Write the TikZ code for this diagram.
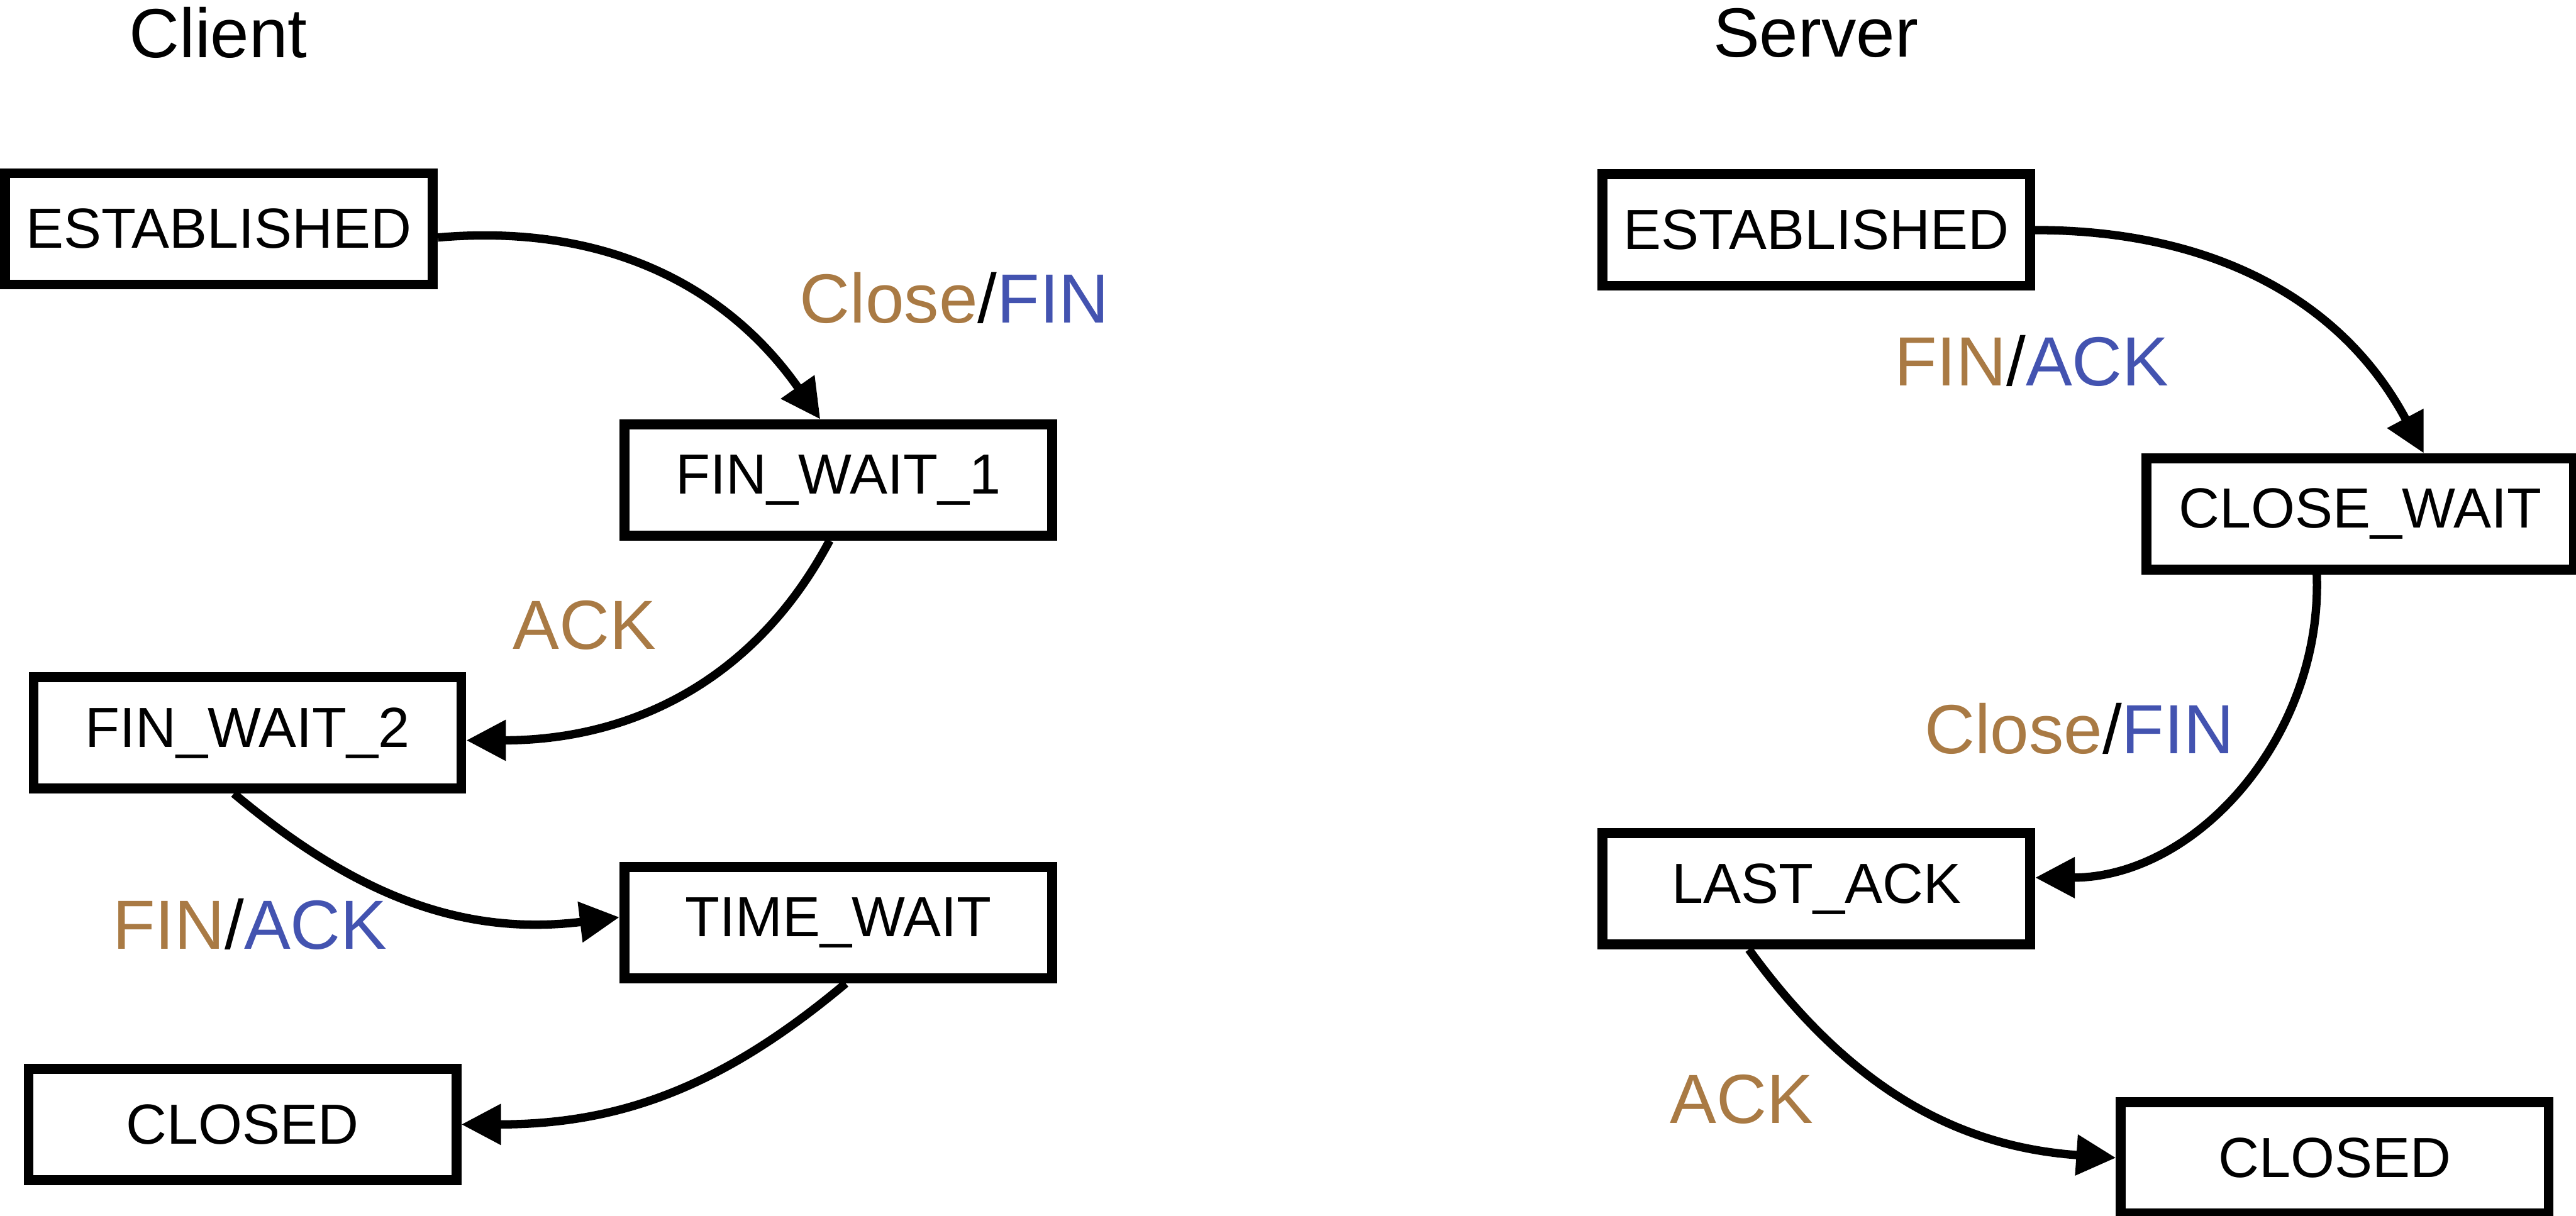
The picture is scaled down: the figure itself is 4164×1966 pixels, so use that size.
\documentclass[tikz,border=0pt]{standalone}
\usepackage{fontspec}
\setmainfont{Liberation Sans}
\usetikzlibrary{arrows.meta}
\definecolor{evtColor}{HTML}{A97A44}
\definecolor{actColor}{HTML}{4353B0}
\newcommand{\evt}[1]{\textcolor{evtColor}{#1}}
\newcommand{\act}[1]{\textcolor{actColor}{#1}}

\begin{document}
\begin{tikzpicture}[x=0.01cm, y=-0.01cm]
%styles
\tikzstyle{stateBox}=[rectangle, draw, line width=0.16cm, minimum width=6.91cm, minimum height=1.80cm, inner sep=0pt, font=\fontsize{26}{30}\selectfont]
\tikzstyle{textLine}=[rectangle, text=black, inner sep=0pt, font=\fontsize{32}{38}\selectfont]
\tikzstyle{transition}=[-{Triangle[length=0.64cm, width=0.63cm]}, line width=0.135cm]

\useasboundingbox (0,0) rectangle (4164,1966);

%client side
\node[textLine] (client) at (353,53) {Client};
\node[stateBox] (cEst) at (354,370) {ESTABLISHED};
\node[stateBox] (cFw1) at (1355,776) {FIN\_WAIT\_1};
\node[stateBox] (cFw2) at (400,1185) {FIN\_WAIT\_2};
\node[stateBox] (cTw) at (1355,1492) {TIME\_WAIT};
\node[stateBox] (cClosed) at (392,1818) {CLOSED};

\node[textLine] (cCloseFin) at (1543,482) {\evt{Close}/\act{FIN}};
\node[textLine] (cAck) at (945,1011) {\evt{ACK}};
\node[textLine] (cFinAck) at (404,1494) {\evt{FIN}/\act{ACK}};

\draw[transition] ([yshift=-0.14cm]cEst.east) to[out=5, in=125] ([xshift=-0.29cm]cFw1.north);
\draw[transition] ([xshift=-0.14cm]cFw1.south) to[out=-118, in=0] ([yshift=-0.12cm]cFw2.east);
\draw[transition] ([xshift=-0.22cm]cFw2.south) to[out=-40, in=187] ([yshift=0.09cm]cTw.west);
\draw[transition] ([xshift=0.12cm]cTw.south) to[out=-140, in=0] (cClosed.east);

%server side
\node[textLine] (server) at (2935,53) {Server};
\node[stateBox] (sEst) at (2936,372) {ESTABLISHED};
\node[stateBox] (sCw) at (3815,831) {CLOSE\_WAIT};
\node[stateBox] (sLast) at (2936,1437) {LAST\_ACK};
\node[stateBox] (sClosed) at (3774,1872) {CLOSED};

\node[textLine] (sFinAck) at (3284,583) {\evt{FIN}/\act{ACK}};
\node[textLine] (sCloseFin) at (3361,1178) {\evt{Close}/\act{FIN}};
\node[textLine] (sAck) at (2815,1777) {\evt{ACK}};

\draw[transition] (sEst.east) to[out=0, in=118] ([xshift=1.03cm]sCw.north);
\draw[transition] ([xshift=-0.7cm]sCw.south) to[out=-88, in=0] ([yshift=0.18cm]sLast.east);
\draw[transition] ([xshift=-1.09cm]sLast.south) to[out=-54, in=176] (sClosed.west);

\end{tikzpicture}
\end{document}
